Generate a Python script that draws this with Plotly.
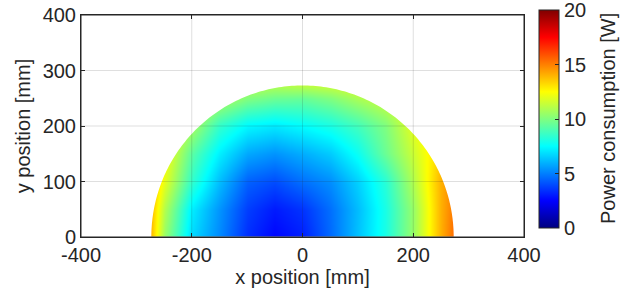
import numpy as np
import plotly.graph_objects as go

# ---- data (power consumption in W on a 50 mm grid) ----
x_mm = [-300, -250, -200, -150, -100, -50, 0, 50, 100, 150, 200, 250, 300]
y_mm = [0, 50, 100, 150, 200, 250, 300]
power_w = [
    [17.5, 10.5, 6.8, 5.2, 3.4, 2.6, 3.1, 4.6, 6.3, 8.0, 10.5, 14.0, 17.0],
    [17.0, 11.0, 7.2, 5.4, 3.7, 3.0, 3.5, 4.7, 6.2, 8.0, 10.5, 14.0, 16.5],
    [16.5, 12.0, 8.5, 6.2, 4.4, 4.0, 4.7, 5.3, 6.6, 8.3, 11.0, 14.0, 16.0],
    [16.0, 12.5, 9.3, 7.2, 5.8, 5.4, 5.9, 6.5, 7.7, 9.6, 11.5, 13.5, 15.5],
    [15.0, 13.0, 10.8, 8.5, 7.4, 7.1, 7.5, 8.0, 8.8, 10.0, 12.0, 13.5, 15.0],
    [15.0, 14.0, 12.5, 11.0, 10.0, 9.6, 9.5, 10.0, 10.8, 11.5, 12.5, 14.0, 15.0],
    [15.0, 14.5, 13.5, 12.5, 12.5, 12.5, 13.0, 13.0, 13.0, 13.0, 13.5, 14.5, 15.0],
]
workspace_radius_mm = 273
x_ticks = [-400, -200, 0, 200, 400]
x_tick_text = ["-400", "-200", "0", "200", "400"]
y_ticks = [0, 100, 200, 300, 400]
cbar_ticks = [0, 5, 10, 15, 20]

AX = "#262626"
FONT = "Arial, Liberation Sans, sans-serif"
jet = [[0.0, "#000080"], [0.125, "#0000ff"], [0.375, "#00ffff"],
       [0.625, "#ffff00"], [0.875, "#ff0000"], [1.0, "#800000"]]

# plot area in pixels
L, R_, T, B = 81, 524, 15, 237
W, H = 640, 298

fig = go.Figure()
fig.add_trace(go.Heatmap(
    x=x_mm, y=y_mm, z=power_w, zsmooth="best",
    colorscale=jet, zmin=0, zmax=20,
    colorbar=dict(
        x=(539 - L) / (R_ - L), xanchor="left", xpad=0,
        y=(B - 10) / (B - T), yanchor="top", ypad=0,
        lenmode="fraction", len=218 / (B - T), thickness=20,
        outlinecolor=AX, outlinewidth=1,
        tickvals=cbar_ticks, ticktext=[str(v) for v in cbar_ticks],
        ticks="inside", ticklen=4, tickcolor=AX, ticklabeloverflow="allow",
        tickfont=dict(family=FONT, size=20, color=AX),
    ),
    hoverinfo="skip",
))

# colorbar label
fig.add_annotation(text="Power consumption [W]", xref="paper", yref="paper",
                   x=(608 - L) / (R_ - L), y=(B - 119) / (B - T),
                   xanchor="center", yanchor="middle", textangle=-90,
                   showarrow=False, font=dict(family=FONT, size=20, color=AX))

# white mask outside the semicircular workspace
th = np.linspace(np.pi, 0, 181)
R = workspace_radius_mm
pts = [(-335, 0), (-R, 0)] + [(R * np.cos(t), R * np.sin(t)) for t in th] + [(R, 0), (335, 0), (335, 335), (-335, 335)]
path = "M " + " L ".join(f"{px:.2f},{py:.2f}" for px, py in pts) + " Z"
shapes = [dict(type="path", path=path, xref="x", yref="y", fillcolor="white",
               line=dict(width=0), layer="above")]
grid = "rgba(38,38,38,0.15)"
for gx in x_ticks[1:-1]:
    shapes.append(dict(type="line", xref="x", yref="y", x0=gx, x1=gx, y0=0, y1=400,
                       line=dict(color=grid, width=1), layer="above"))
for gy in y_ticks[1:-1]:
    shapes.append(dict(type="line", xref="x", yref="y", x0=-400, x1=400, y0=gy, y1=gy,
                       line=dict(color=grid, width=1), layer="above"))
shapes.append(dict(type="rect", xref="x", yref="y", x0=-400, x1=400, y0=0, y1=400,
                   line=dict(color=AX, width=1), layer="above"))

axis_common = dict(showgrid=False, zeroline=False, showline=True, linecolor=AX,
                   linewidth=1, mirror="ticks", ticks="inside", ticklen=4,
                   tickcolor=AX, automargin=False,
                   tickfont=dict(family=FONT, size=20, color=AX))
fig.update_layout(
    width=W, height=H,
    margin=dict(l=L, r=W - R_, t=T, b=H - B, autoexpand=False),
    paper_bgcolor="white", plot_bgcolor="white",
    shapes=shapes,
    xaxis=dict(range=[-400, 400], tickvals=x_ticks, ticktext=x_tick_text, **axis_common,
               title=dict(text="x position [mm]", standoff=4,
                          font=dict(family=FONT, size=20, color=AX))),
    yaxis=dict(range=[0, 400], tickvals=y_ticks, **axis_common,
               title=dict(text="y position [mm]", standoff=6,
                          font=dict(family=FONT, size=20, color=AX))),
)
fig.write_html("out.html", config={"displayModeBar": False},
               post_script="document.body.style.margin='0';document.body.style.overflow='hidden';")
